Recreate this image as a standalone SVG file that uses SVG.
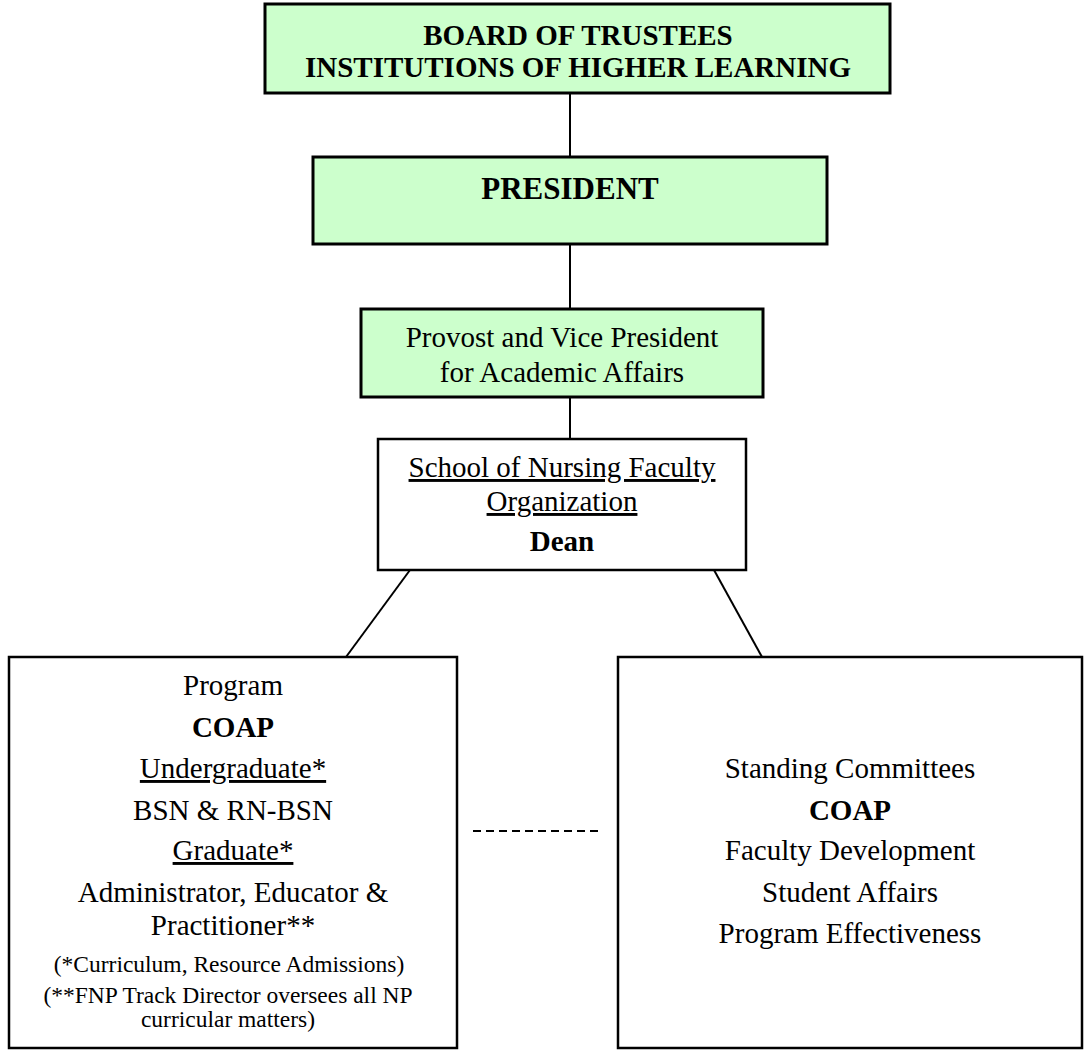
<svg xmlns="http://www.w3.org/2000/svg" width="1084" height="1050" viewBox="0 0 1084 1050">
<style>
.g{fill:#CCFFCC;stroke:#000;stroke-width:3}
.w{fill:#fff;stroke:#000;stroke-width:2.5}
.t{font-family:"Liberation Serif","Times New Roman",serif;font-size:29px;fill:#000;text-anchor:middle}
.b{font-weight:bold}
.s{font-size:23.5px}
.u{text-decoration:underline}
.c{stroke:#000;stroke-width:2;fill:none}
</style>
<rect width="1084" height="1050" fill="#fff"/>
<g id="connectors">
<line class="c" x1="570" y1="93" x2="570" y2="157"/>
<line class="c" x1="570" y1="244" x2="570" y2="309"/>
<line class="c" x1="570" y1="397" x2="570" y2="439"/>
<line class="c" x1="410" y1="570" x2="346" y2="657"/>
<line class="c" x1="714" y1="570" x2="762" y2="657"/>
<line class="c" x1="473" y1="831" x2="603" y2="831" stroke-dasharray="8 5"/>
</g>
<g id="board">
<rect class="g" x="265" y="4" width="625" height="89"/>
<text class="t b" x="578" y="45">BOARD OF TRUSTEES</text>
<text class="t b" x="578" y="77">INSTITUTIONS OF HIGHER LEARNING</text>
</g>
<g id="president">
<rect class="g" x="313" y="157" width="514" height="87"/>
<text class="t b" x="570" y="199" style="font-size:31px">PRESIDENT</text>
</g>
<g id="provost">
<rect class="g" x="361" y="309" width="402" height="88"/>
<text class="t" x="562" y="347">Provost and Vice President</text>
<text class="t" x="562" y="382">for Academic Affairs</text>
</g>
<g id="school">
<rect class="w" x="378" y="439" width="368" height="131"/>
<text class="t u" x="562" y="477">School of Nursing Faculty</text>
<text class="t u" x="562" y="511">Organization</text>
<text class="t b" x="562" y="551">Dean</text>
</g>
<g id="program">
<rect class="w" x="9" y="657" width="448" height="391"/>
<text class="t" x="233" y="695">Program</text>
<text class="t b" x="233" y="737">COAP</text>
<text class="t u" x="233" y="778">Undergraduate*</text>
<text class="t" x="233" y="820">BSN &amp; RN-BSN</text>
<text class="t u" x="233" y="860">Graduate*</text>
<text class="t" x="233" y="902">Administrator, Educator &amp;</text>
<text class="t" x="233" y="935">Practitioner**</text>
<text class="t s" x="229" y="972">(*Curriculum, Resource Admissions)</text>
<text class="t s" x="228" y="1003">(**FNP Track Director oversees all NP</text>
<text class="t s" x="228" y="1027">curricular matters)</text>
</g>
<g id="standing">
<rect class="w" x="618" y="657" width="464" height="391"/>
<text class="t" x="850" y="778">Standing Committees</text>
<text class="t b" x="850" y="820">COAP</text>
<text class="t" x="850" y="860">Faculty Development</text>
<text class="t" x="850" y="902">Student Affairs</text>
<text class="t" x="850" y="943">Program Effectiveness</text>
</g>
</svg>
